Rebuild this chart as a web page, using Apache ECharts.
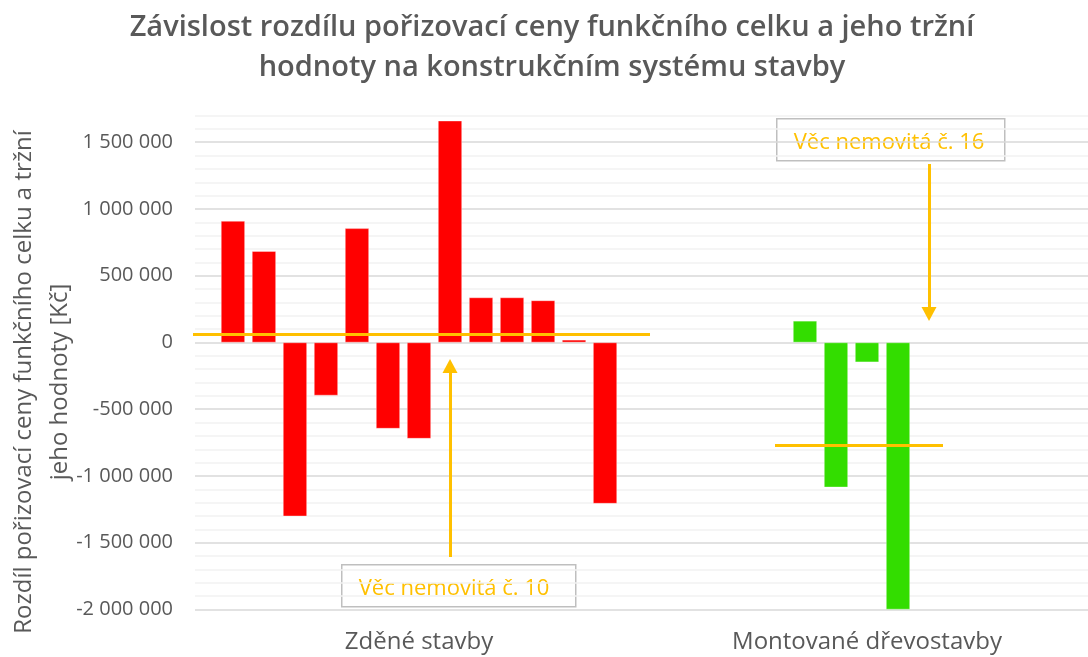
<!DOCTYPE html>
<html>
<head>
<meta charset="utf-8">
<title>Závislost rozdílu pořizovací ceny</title>
<script src="https://cdn.jsdelivr.net/npm/echarts@6/dist/echarts.min.js"></script>
<style>
	html, body { margin: 0; padding: 0; background: #fff; }
	#main { width: 1088px; height: 657px; }
</style>
</head>
<body>
<div id="main"></div>
<script>
// kategorie na ose x
var categories = ['Zděné stavby', 'Montované dřevostavby'];
// rozdíl ceny [Kč] - zděné stavby (13 věcí)
var zdeneValues = [910000, 684000, -1302000, -397000, 855000, -645000, -720000, 1661000, 337000, 337000, 315000, 20000, -1207000];
// rozdíl ceny [Kč] - montované dřevostavby (4 věci)
var drevoValues = [162000, -1085000, -148000, -2000000];
// popisky osy y
var yTicks = [-2000000, -1500000, -1000000, -500000, 0, 500000, 1000000, 1500000];

var textColor = '#595959';
var orange = '#FFC000';
var drevoStart = 4; // dřevostavby jsou v prostředních sloupcích skupiny

function mean(arr) {
	var s = 0;
	for (var i = 0; i < arr.length; i++) s += arr[i];
	return s / arr.length;
}

//formát čísla s mezerou mezi tisíci
function fmt(v) {
	var neg = v < 0;
	var s = String(Math.abs(v)).replace(/\B(?=(\d{3})+(?!\d))/g, ' ');
	return (neg ? '-' : '') + s;
}

var series = [];
for (var i = 0; i < zdeneValues.length; i++) {
	var d = i - drevoStart;
	series.push({
		name: 'Věc ' + (i + 1),
		type: 'bar',
		barWidth: 24,
		barGap: '29.2%',
		data: [
			{ value: zdeneValues[i], itemStyle: { color: '#FF0000' } },
			d >= 0 && d < drevoValues.length ? { value: drevoValues[d], itemStyle: { color: '#33DD00' } } : '-'
		],
		itemStyle: { borderColor: 'rgba(255,255,255,0.6)', borderWidth: 0.6 },
		animation: false
	});
}

// průměrné čáry
series[0].markLine = {
	silent: true,
	symbol: 'none',
	animation: false,
	label: { show: false },
	lineStyle: { color: orange, width: 3, type: 'solid' },
	data: [
		[{ x: 193, yAxis: mean(zdeneValues) }, { x: 650, yAxis: mean(zdeneValues) }],
		[{ x: 775, yAxis: mean(drevoValues) }, { x: 943, yAxis: mean(drevoValues) }]
	]
};
// šipka na věc č. 10
series[7].markLine = {
	silent: true,
	symbol: ['none', 'triangle'],
	symbolSize: [15, 14],
	animation: false,
	label: { show: false },
	lineStyle: { color: orange, width: 3, type: 'solid' },
	data: [
		[{ xAxis: 0, y: 557 }, { xAxis: 0, y: 366 }]
	]
};
// šipka na věc č. 16
series[8].markLine = {
	silent: true,
	symbol: ['none', 'triangle'],
	symbolSize: [15, 14],
	animation: false,
	label: { show: false },
	lineStyle: { color: orange, width: 3, type: 'solid' },
	data: [
		[{ xAxis: 1, y: 164 }, { xAxis: 1, y: 314 }]
	]
};

function noteBox(left, top, w, h, text) {
	return {
		type: 'group',
		left: left,
		top: top,
		children: [
			{ type: 'rect', shape: { x: 0, y: 0, width: w, height: h }, style: { fill: '#fff', stroke: '#BFBFBF', lineWidth: 1.5 } },
			{ type: 'text', x: 17, y: h / 2 + 3, style: { text: text, fill: orange, font: '22px "Open Sans"', align: 'left', verticalAlign: 'middle' } }
		]
	};
}

var myChart = echarts.init(document.getElementById('main'));
var option = {
	backgroundColor: '#fff',
	animation: false,
	title: {
		text: 'Závislost rozdílu pořizovací ceny funkčního celku a jeho tržní\nhodnoty na konstrukčním systému stavby',
		left: 547,
		textAlign: 'center',
		top: 3,
		textStyle: { color: textColor, fontFamily: 'Open Sans', fontWeight: 600, fontSize: 29, lineHeight: 40 }
	},
	grid: { left: 195, right: -3, top: 115.5, bottom: 47.5, outerBoundsMode: 'none', containLabel: false },
	xAxis: {
		type: 'category',
		data: categories,
		axisLine: { show: false },
		axisTick: { show: false },
		splitLine: { show: false },
		axisLabel: { color: textColor, fontFamily: 'Open Sans', fontSize: 24, margin: 21 }
	},
	yAxis: {
		type: 'value',
		min: yTicks[0],
		max: 1700000,
		interval: 100000,
		axisLine: { show: false },
		axisTick: { show: false },
		splitLine: { lineStyle: { color: ['#D9D9D9', '#F2F2F2', '#F2F2F2', '#F2F2F2', '#F2F2F2'], width: 1.5 } },
		axisLabel: {
			color: textColor, fontFamily: 'Open Sans', fontSize: 20, margin: 22,
			formatter: function (v) { return yTicks.indexOf(v) >= 0 ? fmt(v) : ''; }
		},
		name: 'Rozdíl pořizovací ceny funkčního celku a tržní\njeho hodnoty [Kč]',
		nameLocation: 'middle',
		nameRotate: 90,
		nameGap: 117,
		nameMoveOverlap: false,
		nameTextStyle: { color: textColor, fontFamily: 'Open Sans', fontSize: 24, lineHeight: 36, padding: [0, 39, 0, 0] }
	},
	graphic: [
		noteBox(341, 564, 234, 42, 'Věc nemovitá č. 10'),
		noteBox(776, 118, 228, 42, 'Věc nemovitá č. 16')
	],
	series: series
};
myChart.setOption(option);
</script>
</body>
</html>
